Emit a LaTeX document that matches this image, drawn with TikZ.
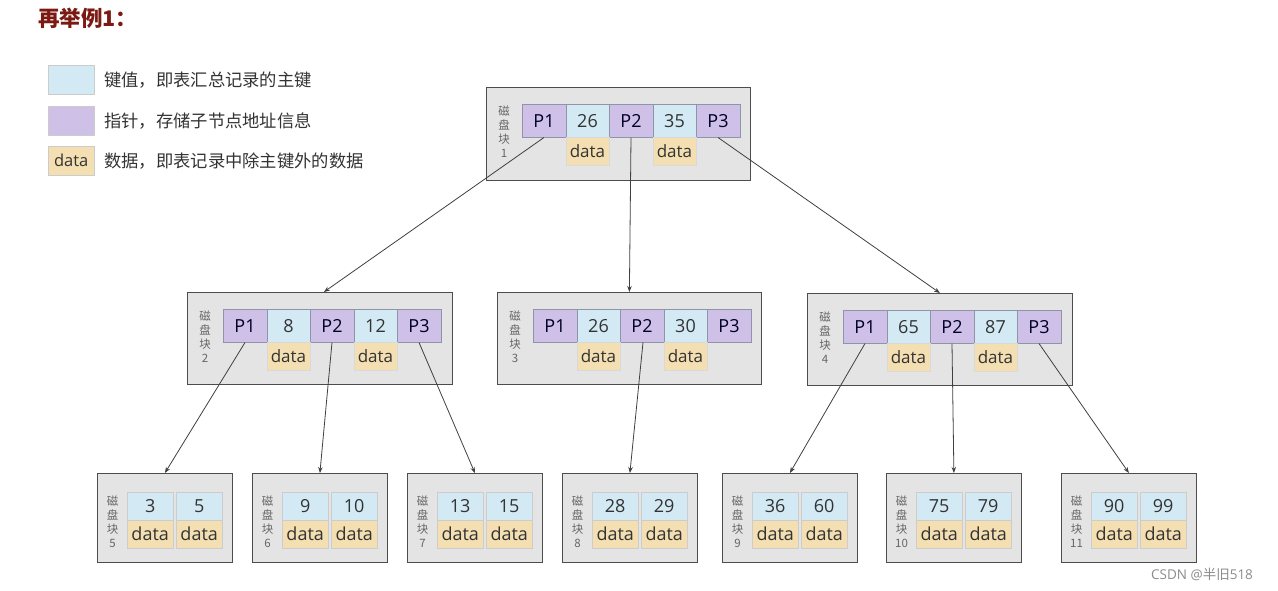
\documentclass[tikz,border=0pt]{standalone}
\usepackage{fontspec}
\setmainfont{Open Sans}
\newfontfamily\cjk{Noto Sans CJK SC}
\usetikzlibrary{arrows.meta}
\definecolor{keyc}{HTML}{D3EAF4}
\definecolor{ptrc}{HTML}{CEC0E6}
\definecolor{datc}{HTML}{F3DFB2}
\definecolor{blkc}{HTML}{E4E4E4}
\definecolor{titlec}{HTML}{7A1A12}
\definecolor{cellb}{HTML}{8F95A8}
\tikzset{
  blk/.style={draw=black!70, fill=blkc, line width=0.8pt, anchor=north west, inner sep=0pt},
  cellbase/.style={draw=cellb, line width=0.5pt, anchor=north west, inner sep=0pt, minimum height=33pt, minimum width=43.5pt, text=black!80, font=\fontsize{18}{18}\selectfont},
  keycell/.style={cellbase, fill=keyc},
  ptrcell/.style={cellbase, fill=ptrc, text=black!75!blue!60!black},
  datcell/.style={draw=black!15, fill=datc, anchor=north west, inner sep=0pt, minimum height=28pt, minimum width=43.5pt, text=black!80, font=\fontsize{17}{17}\selectfont},
  lkey/.style={draw=black!20, fill=keyc, anchor=north west, inner sep=0pt, minimum height=28pt, minimum width=46pt, text=black!80, font=\fontsize{18}{18}\selectfont},
  ldat/.style={draw=black!20, fill=datc, anchor=north west, inner sep=0pt, minimum height=28pt, minimum width=46pt, text=black!80, font=\fontsize{18}{18}\selectfont},
  side/.style={align=center, inner sep=0pt, text=black!60, font=\cjk\fontsize{11.5}{14}\selectfont},
  conn/.style={draw=black!75, line width=0.8pt, -{Stealth[length=6pt,width=4.5pt]}},
  legtext/.style={anchor=west, inner sep=0pt, text=black!80, font=\cjk\fontsize{17.3}{18}\selectfont},
}
\newcommand{\innerblk}[8]{%
  % #1 name, #2 x, #3 y, #4 k1, #5 k2, #6 number, #7 w, #8 h
  \node[blk, minimum width=#7pt, minimum height=#8pt] (#1) at (#2,#3) {};
  \node[side] (#1-s) at (#2+18,#3+45) {磁\\盘\\块\\#6};
  \node[ptrcell] (#1-p1) at (#2+36,#3+17) {P1};
  \node[keycell] (#1-k1) at (#2+79.5,#3+17) {#4};
  \node[ptrcell] (#1-p2) at (#2+123,#3+17) {P2};
  \node[keycell] (#1-k2) at (#2+166.5,#3+17) {#5};
  \node[ptrcell] (#1-p3) at (#2+210,#3+17) {P3};
  \node[datcell] (#1-d1) at (#2+79.5,#3+50) {data};
  \node[datcell] (#1-d2) at (#2+166.5,#3+50) {data};
}
\newcommand{\leafblk}[5]{%
  % #1 name, #2 x, #3 k1, #4 k2, #5 number
  \node[blk, minimum width=135pt, minimum height=89pt] (#1) at (#2,473) {};
  \node[side] (#1-s) at (#2+15.5,522) {磁\\盘\\块\\#5};
  \node[lkey] (#1-k1) at (#2+30,492) {#3};
  \node[lkey] (#1-k2) at (#2+79,492) {#4};
  \node[ldat] (#1-d1) at (#2+30,520) {data};
  \node[ldat] (#1-d2) at (#2+79,520) {data};
}
\begin{document}
\begin{tikzpicture}[x=1pt,y=-1pt]
\useasboundingbox[fill=white] (0,0) rectangle (1278,590);
% title
\node[anchor=west, inner sep=0pt, text=titlec, font=\cjk\bfseries\fontsize{21.5}{22}\selectfont] (title) at (38,18) {再举例1：};
% legend
\node[draw=black!20, fill=keyc, anchor=north west, minimum width=46pt, minimum height=29pt, inner sep=0pt] (lg1) at (48,65) {};
\node[draw=black!20, fill=ptrc, anchor=north west, minimum width=46pt, minimum height=29pt, inner sep=0pt] (lg2) at (48,106) {};
\node[draw=black!20, fill=datc, anchor=north west, minimum width=46pt, minimum height=29pt, inner sep=0pt, text=black!80, font=\fontsize{16.5}{17}\selectfont] (lg3) at (48,146) {data};
\node[legtext] (lt1) at (104,80) {键值，即表汇总记录的主键};
\node[legtext] (lt2) at (104,121) {指针，存储子节点地址信息};
\node[legtext] (lt3) at (104,161) {数据，即表记录中除主键外的数据};
% internal blocks
\innerblk{b1}{486}{87}{26}{35}{1}{264}{93}
\innerblk{b2}{187}{292}{8}{12}{2}{265}{92}
\innerblk{b3}{497}{292}{26}{30}{3}{264}{92}
\innerblk{b4}{807}{293}{65}{87}{4}{265}{92}
% leaves
\leafblk{l5}{97}{3}{5}{5}
\leafblk{l6}{252}{9}{10}{6}
\leafblk{l7}{407}{13}{15}{7}
\leafblk{l8}{562}{28}{29}{8}
\leafblk{l9}{722}{36}{60}{9}
\leafblk{l10}{886}{75}{79}{10}
\leafblk{l11}{1061}{90}{99}{11}
% connectors
\draw[conn] (b1-p1.south) -- ([xshift=4pt]b2.north);
\draw[conn] (b1-p2.south) -- (b3.north);
\draw[conn] (b1-p3.south) -- (b4.north);
\draw[conn] (b2-p1.south) -- (l5.north);
\draw[conn] (b2-p2.south) -- (l6.north);
\draw[conn] (b2-p3.south) -- (l7.north);
\draw[conn] ([xshift=1pt]b3-p2.south) -- (l8.north);
\draw[conn] (b4-p1.south) -- (l9.north);
\draw[conn] (b4-p2.south) -- (l10.north);
\draw[conn] (b4-p3.south) -- (l11.north);
% watermark
\node[anchor=west, inner sep=0pt, text=black!45, font=\fontsize{13.5}{14}\selectfont] (wm) at (1151,574) {CSDN @{\cjk 半旧}518};
\end{tikzpicture}
\end{document}
